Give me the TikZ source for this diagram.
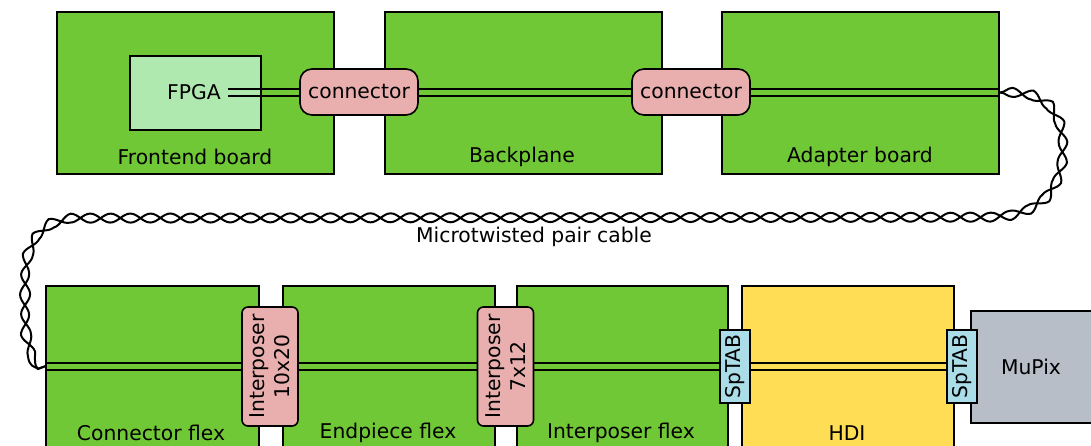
\documentclass[tikz,border=0pt]{standalone}
\usepackage{fontspec}
\setmainfont{DejaVu Sans}
\usetikzlibrary{decorations.pathmorphing}
\definecolor{boardgreen}{HTML}{71C837}
\definecolor{fpgagreen}{HTML}{AFE9AF}
\definecolor{conpink}{HTML}{E9AFAF}
\definecolor{hdiyellow}{HTML}{FFDD55}
\definecolor{tabblue}{HTML}{AADDE8}
\definecolor{mupixgray}{HTML}{B7BEC8}
\begin{document}
\begin{tikzpicture}[x=1pt,y=-1pt,
  font=\fontsize{20.3}{24}\selectfont,
  box/.style={draw=black, line width=1.6pt, inner sep=0pt, anchor=north west},
  board/.style={box, fill=boardgreen},
  lbl/.style={inner sep=0pt},
  conn/.style={draw=black, line width=1.6pt, fill=conpink, rounded corners=12pt, minimum width=118pt, minimum height=46pt, inner sep=0pt},
  ipbox/.style={draw=black, line width=1.6pt, fill=conpink, rounded corners=6pt, rotate=90, minimum width=119pt, minimum height=56pt, inner sep=0pt, align=center, font=\fontsize{20.3}{25}\selectfont},
  tab/.style={draw=black, line width=1.6pt, fill=tabblue, rotate=90, minimum width=73pt, minimum height=30pt, inner sep=0pt},
  wire/.style={draw=black, line width=2pt},
  twist/.style={wire, decorate, decoration={snake, amplitude=4.5pt, segment length=40pt}},
]
\useasboundingbox (0,0) rectangle (1091,445);

% top row boards
\node[board, minimum width=277pt, minimum height=162pt] (fe) at (56,11) {};
\node[board, minimum width=277pt, minimum height=162pt] (bp) at (384,11) {};
\node[board, minimum width=277pt, minimum height=162pt] (ad) at (721,11) {};
\node[lbl] (felbl) at (195,157) {Frontend board};
\node[lbl] (bplbl) at (522,157) {Backplane};
\node[lbl] (adlbl) at (860,157) {Adapter board};

% FPGA
\node[box, fill=fpgagreen, minimum width=131pt, minimum height=74pt] (fpga) at (129,55) {};
\node[lbl] (fpgalbl) at (194,92.5) {FPGA};

% bottom row boards
\node[board, minimum width=213pt, minimum height=170pt] (cf) at (45,285) {};
\node[board, minimum width=212pt, minimum height=170pt] (ef) at (282,285) {};
\node[board, minimum width=211pt, minimum height=170pt] (if) at (516,285) {};
\node[box, fill=hdiyellow, minimum width=212pt, minimum height=170pt] (hdi) at (741,285) {};
\node[box, fill=mupixgray, minimum width=140pt, minimum height=112pt] (mp) at (970,310) {};
\node[lbl] (cflbl) at (151,433) {Connector flex};
\node[lbl] (eflbl) at (388,433) {Endpiece flex};
\node[lbl] (iflbl) at (621,433) {Interposer flex};
\node[lbl] (hdilbl) at (847,433) {HDI};
\node[lbl] (mplbl) at (1031,367) {MuPix};

% cable coordinates
\coordinate (fpgaout) at (228,92.5);
\coordinate (cabtop) at (1000,92.5);
\coordinate (cabbot) at (45,366.3);
\coordinate (busend) at (947,366.3);

% straight double wires
\foreach \s in {-3.5,3.5} {
  \draw[wire] ([yshift=\s pt]fpgaout) -- ([yshift=\s pt]cabtop);
  \draw[wire] ([yshift=\s pt]cabbot) -- ([yshift=\s pt]busend);
}

% twisted pair cable
\foreach \m in {,mirror} {
  \draw[twist, decoration={\m}] (cabtop)
    .. controls (1042,92) and (1053,118) .. (1053,148)
    .. controls (1053,190) and (1030,216) .. (982,217)
    -- (70,218)
    .. controls (30,218) and (15,242) .. (15,282)
    -- (15,318)
    .. controls (15,350) and (24,366.3) .. (cabbot);
}
\node[lbl] (cablbl) at (534,237) {Microtwisted pair cable};

% connectors
\node[conn] (c1) at (359,92) {connector};
\node[conn] (c2) at (691,92) {connector};

% interposers
\node[ipbox] (ip1) at (270,366.5) {Interposer\\10x20};
\node[ipbox] (ip2) at (505.5,366.5) {Interposer\\7x12};

% SpTABs
\node[tab] (sp1) at (735,366.5) {SpTAB};
\node[tab] (sp2) at (962,366.5) {SpTAB};
\end{tikzpicture}
\end{document}
